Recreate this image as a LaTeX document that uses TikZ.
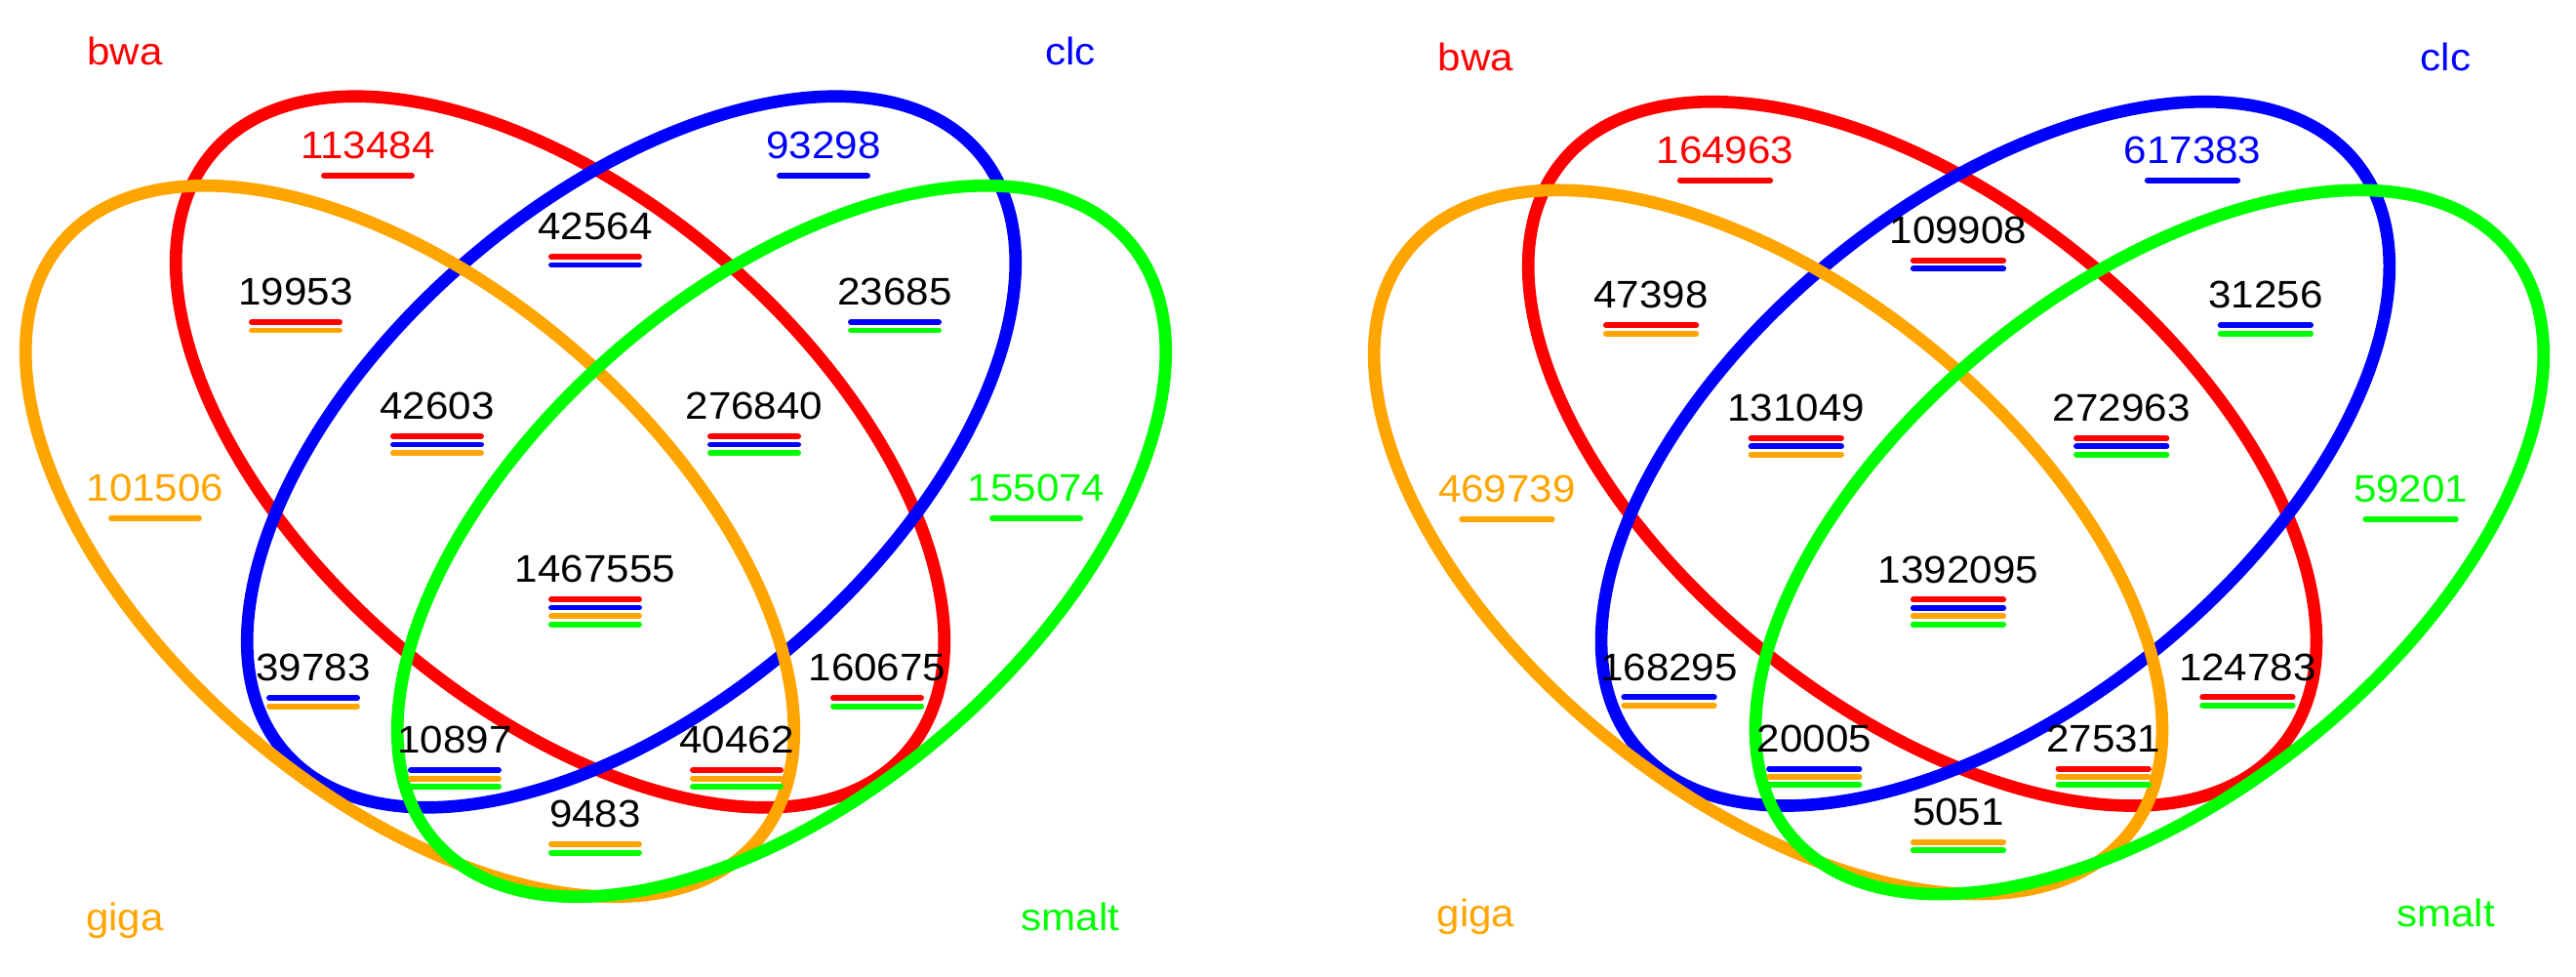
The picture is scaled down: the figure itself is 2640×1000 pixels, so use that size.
\documentclass[tikz,border=0pt]{standalone}
\usepackage{fontspec}
\setmainfont{Liberation Sans}[FakeStretch=1.07]
\definecolor{vred}{RGB}{255,0,0}
\definecolor{vblue}{RGB}{0,0,255}
\definecolor{vorange}{RGB}{255,165,0}
\definecolor{vgreen}{RGB}{0,255,0}
\tikzset{
  venn/.style={line width=3.6pt},
  barline/.style={line width=1.7pt, line cap=round},
  numlab/.style={anchor=base, inner sep=0pt, font=\fontsize{11.2}{13}\selectfont},
}
% ellipse: colour, cx, cy, angle
\newcommand\vell[4]{%
  \draw[venn,#1,rotate around={#4:(#2,#3)}] (#2,#3) ellipse [x radius=470, y radius=258.4];}
% region label: name, x, y, text colour, text, bar colours
\newcommand\vlab[6]{%
  \node[numlab,text=#4] (#1) at (#2,#3+14.5) {#5};
  \foreach \col [count=\i from 0] in {#6} {
    \draw[barline,color=\col] (#2-45,#3+32+8.5*\i) -- (#2+45,#3+32+8.5*\i);
  }}
\newcommand\venndiagram[1]{%
  \vell{vred}{574}{463}{-40.84}
  \vell{vblue}{647}{463}{40.84}
  \vell{vorange}{420}{554.5}{-40.84}
  \vell{vgreen}{801}{554.5}{40.84}
  \node[numlab,text=vred] (#1bwa) at (128,67) {bwa};
  \node[numlab,text=vblue] (#1clc) at (1097,67) {clc};
  \node[numlab,text=vorange] (#1giga) at (128,953) {giga};
  \node[numlab,text=vgreen] (#1smalt) at (1097,953) {smalt};
}
\begin{document}
\begin{tikzpicture}[x=0.01cm,y=-0.01cm]
\fill[white] (0,0) rectangle (2640,1000);
\useasboundingbox (0,0) rectangle (2640,1000);
% left diagram
\venndiagram{L}
\vlab{La}{377}{148}{vred}{113484}{vred}
\vlab{Lb}{844}{148}{vblue}{93298}{vblue}
\vlab{Lc}{610}{231}{black}{42564}{vred,vblue}
\vlab{Ld}{303}{298}{black}{19953}{vred,vorange}
\vlab{Le}{917}{298}{black}{23685}{vblue,vgreen}
\vlab{Lf}{448}{415}{black}{42603}{vred,vblue,vorange}
\vlab{Lg}{773}{415}{black}{276840}{vred,vblue,vgreen}
\vlab{Lh}{159}{499}{vorange}{101506}{vorange}
\vlab{Li}{1062}{499}{vgreen}{155074}{vgreen}
\vlab{Lj}{610}{582}{black}{1467555}{vred,vblue,vorange,vgreen}
\vlab{Lk}{321}{683}{black}{39783}{vblue,vorange}
\vlab{Ll}{899}{683}{black}{160675}{vred,vgreen}
\vlab{Lm}{466}{757}{black}{10897}{vblue,vorange,vgreen}
\vlab{Ln}{755}{757}{black}{40462}{vred,vorange,vgreen}
\vlab{Lo}{610}{833}{black}{9483}{vorange,vgreen}
% right diagram
\begin{scope}[shift={(1381.3,6.5)},xscale=1.0257,yscale=0.99]
\venndiagram{R}
\vlab{Ra}{377}{148}{vred}{164963}{vred}
\vlab{Rb}{844}{148}{vblue}{617383}{vblue}
\vlab{Rc}{610}{231}{black}{109908}{vred,vblue}
\vlab{Rd}{303}{298}{black}{47398}{vred,vorange}
\vlab{Re}{917}{298}{black}{31256}{vblue,vgreen}
\vlab{Rf}{448}{415}{black}{131049}{vred,vblue,vorange}
\vlab{Rg}{773}{415}{black}{272963}{vred,vblue,vgreen}
\vlab{Rh}{159}{499}{vorange}{469739}{vorange}
\vlab{Ri}{1062}{499}{vgreen}{59201}{vgreen}
\vlab{Rj}{610}{582}{black}{1392095}{vred,vblue,vorange,vgreen}
\vlab{Rk}{321}{683}{black}{168295}{vblue,vorange}
\vlab{Rl}{899}{683}{black}{124783}{vred,vgreen}
\vlab{Rm}{466}{757}{black}{20005}{vblue,vorange,vgreen}
\vlab{Rn}{755}{757}{black}{27531}{vred,vorange,vgreen}
\vlab{Ro}{610}{833}{black}{5051}{vorange,vgreen}
\end{scope}
\end{tikzpicture}
\end{document}
